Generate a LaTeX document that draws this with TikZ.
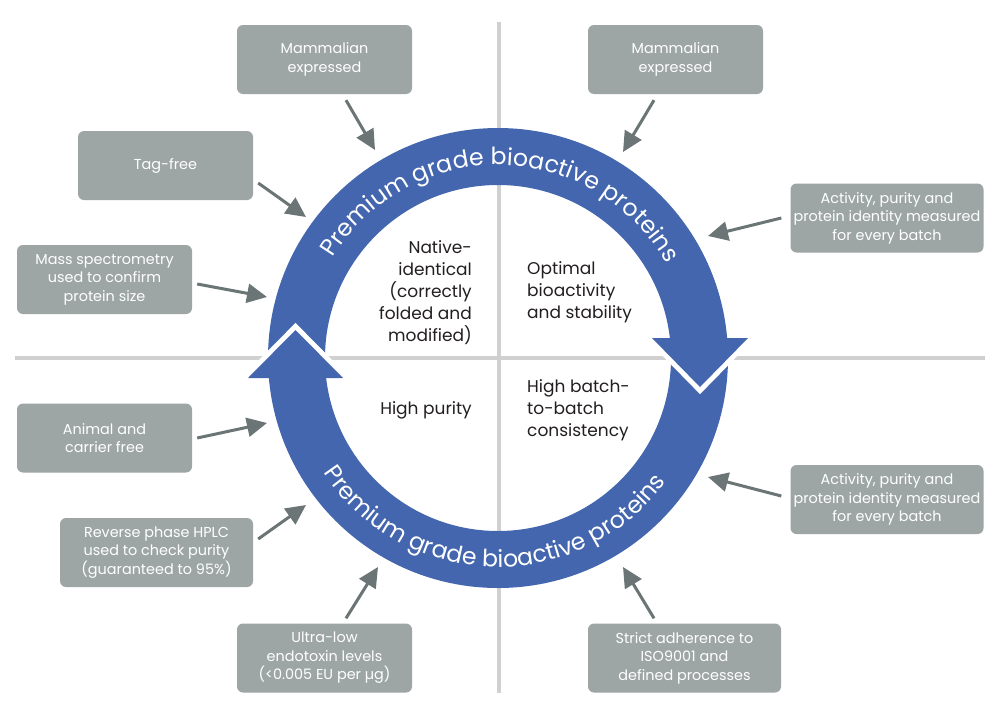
\documentclass[tikz,border=0pt]{standalone}
\usepackage{fontspec}
\setmainfont{Poppins}
\usetikzlibrary{arrows.meta,decorations.text,calc}
\definecolor{ringblue}{RGB}{68,102,174}
\definecolor{boxgrey}{RGB}{158,166,165}
\definecolor{arrowgrey}{RGB}{108,117,117}
\definecolor{linegrey}{RGB}{208,208,208}
\definecolor{textdark}{RGB}{35,31,32}
\begin{document}
\begin{tikzpicture}[x=1pt,y=1pt,
  box/.style={fill=boxgrey, rounded corners=6pt, text=white, align=center,
    minimum width=175pt, minimum height=69pt, inner sep=0pt,
    font=\fontsize{14.4}{18.5}\selectfont},
  widebox/.style={box, minimum width=193pt},
  inlabel/.style={text=textdark, inner sep=0pt, font=\fontsize{17}{22}\selectfont},
  feed/.style={draw=arrowgrey, line width=3pt, -{Triangle[length=20pt,width=19pt]}},
  divider/.style={draw=linegrey, line width=4pt},
  headwhite/.style={draw=white, line width=10pt, line join=miter},
]
\useasboundingbox[fill=white] (0,0) rectangle (1000,-712);
\coordinate (c) at (498,-358);
% divider lines
\coordinate (hl) at (15,-358);
\coordinate (hr) at (985,-358);
\coordinate (vt) at (498.5,-22);
\coordinate (vb) at (498.5,-693);
\draw[divider] (hl) -- (hr);
\draw[divider] (vt) -- (vb);
% ring
\fill[ringblue, even odd rule] (c) circle[radius=230] (c) circle[radius=173];
% right arrowhead (clockwise top arc)
\draw[headwhite] (652,-338) -- (700,-387) -- (748,-338);
\fill[ringblue] (652,-338) -- (700,-387) -- (748,-338) -- cycle;
% left arrowhead (bottom arc)
\draw[headwhite] (248,-378) -- (295.5,-330) -- (343,-378);
\fill[ringblue] (248,-378) -- (295.5,-330) -- (343,-378) -- cycle;
% text on ring
\path[decorate, decoration={text along path, text align=center,
  text={|\fontsize{23.6}{23.6}\selectfont\color{white}|Premium grade bioactive proteins}}]
  ($(c)+(178:193)$) arc[start angle=178, end angle=0, radius=193];
\path[decorate, decoration={text along path, text align=center,
  text={|\fontsize{23.6}{23.6}\selectfont\color{white}|Premium grade bioactive proteins}}]
  ($(c)+(180:209)$) arc[start angle=180, end angle=357, radius=209];
% inner labels
\node[inlabel, anchor=east, align=right] (native) at (472,-292.5)
  {Native-\\identical\\(correctly\\folded and\\modified)};
\node[inlabel, anchor=west, align=left] (optimal) at (527,-292)
  {Optimal\\bioactivity\\and stability};
\node[inlabel, anchor=east, align=right] (purity) at (472,-410) {High purity};
\node[inlabel, anchor=west, align=left] (batch) at (527,-410.5)
  {High batch-\\to-batch\\consistency};
% boxes
\node[box] (mamL) at (324.5,-59.5) {Mammalian\\expressed};
\node[box] (tag) at (165.5,-165.5) {Tag-free};
\node[box] (mass) at (104.5,-279.5) {Mass spectrometry\\used to confirm\\protein size};
\node[box] (mamR) at (675.5,-59.5) {Mammalian\\expressed};
\node[widebox] (actT) at (887,-218) {Activity, purity and\\protein identity measured\\for every batch};
\node[box] (animal) at (104.5,-438) {Animal and\\carrier free};
\node[widebox] (rev) at (156.5,-552.5) {Reverse phase HPLC\\used to check purity\\(guaranteed to 95\%)};
\node[box] (ultra) at (324.5,-658) {Ultra-low\\endotoxin levels\\(<0.005 EU per µg)};
\node[widebox] (actB) at (887,-499.5) {Activity, purity and\\protein identity measured\\for every batch};
\node[widebox] (strict) at (684.5,-658) {Strict adherence to\\ISO9001 and\\defined processes};
% arrow tips
\coordinate (pmamL) at (375,-150);
\coordinate (ptag) at (306,-217);
\coordinate (pmass) at (267,-297);
\coordinate (pmamR) at (623,-152);
\coordinate (pactT) at (708,-236);
\coordinate (panimal) at (267,-423);
\coordinate (prev) at (306,-505);
\coordinate (pultra) at (378,-567);
\coordinate (pactB) at (708,-477);
\coordinate (pstrict) at (623,-567);
% arrows
\draw[feed] ($(mamL.south)+(21.5,-6)$) -- (pmamL);
\draw[feed] ($(tag.east)+(5,-17.5)$) -- (ptag);
\draw[feed] ($(mass.east)+(5,-4.5)$) -- (pmass);
\draw[feed] ($(mamR.south)+(-21.5,-6)$) -- (pmamR);
\draw[feed] ($(actT.west)+(-9,0)$) -- (pactT);
\draw[feed] ($(animal.east)+(5,0)$) -- (panimal);
\draw[feed] ($(rev.east)+(5,13.5)$) -- (prev);
\draw[feed] ($(ultra.north)+(21.5,5)$) -- (pultra);
\draw[feed] ($(actB.west)+(-9,3.5)$) -- (pactB);
\draw[feed] ($(strict.north)+(-30.5,5)$) -- (pstrict);
\end{tikzpicture}
\end{document}
